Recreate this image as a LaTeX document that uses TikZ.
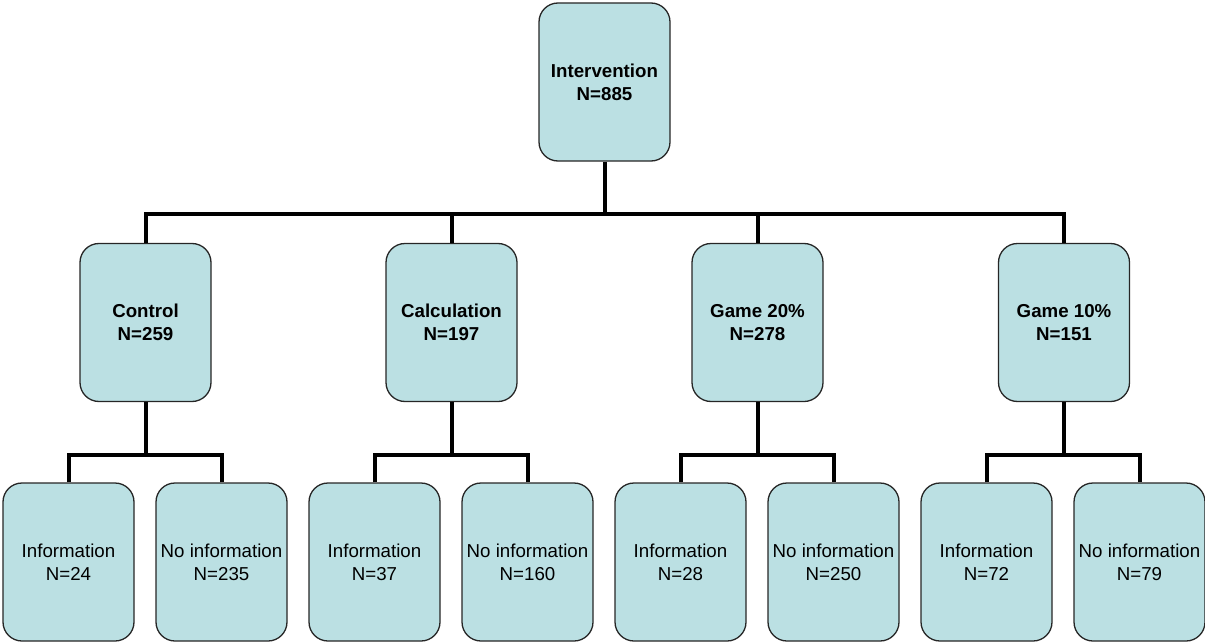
\documentclass[tikz,border=0pt]{standalone}
\usepackage{fontspec}
\setmainfont{Liberation Sans}
\begin{document}
\begin{tikzpicture}[x=1pt,y=-1pt,
  box/.style={draw=black!85, line width=1.3pt, fill=boxfill, rounded corners=19pt,
    minimum width=131pt, minimum height=158pt, inner sep=0pt, align=center,
    font=\fontsize{18.7}{23}\selectfont},
  hbox/.style={box, font=\fontsize{18.7}{23}\selectfont\bfseries},
  conn/.style={line width=4pt}]
\definecolor{boxfill}{RGB}{187,224,227}
\useasboundingbox (0,0) rectangle (1205,642);
% nodes
\node[hbox] (top) at (604.5,82) {Intervention\\N=885};
\node[hbox] (c1) at (145.5,322.5) {Control\\N=259};
\node[hbox] (c2) at (451.5,322.5) {Calculation\\N=197};
\node[hbox] (c3) at (757.5,322.5) {Game 20\%\\N=278};
\node[hbox] (c4) at (1064,322.5) {Game 10\%\\N=151};
\node[box] (l1) at (68.5,562) {Information\\N=24};
\node[box] (r1) at (221.5,562) {No information\\N=235};
\node[box] (l2) at (374.5,562) {Information\\N=37};
\node[box] (r2) at (527.5,562) {No information\\N=160};
\node[box] (l3) at (680.5,562) {Information\\N=28};
\node[box] (r3) at (833.5,562) {No information\\N=250};
\node[box] (l4) at (986.5,562) {Information\\N=72};
\node[box] (r4) at (1139.5,562) {No information\\N=79};
% bar coordinates
\coordinate (b0) at (604.5,214);
\coordinate (b1) at (145.5,455);
\coordinate (b2) at (451.5,455);
\coordinate (b3) at (757.5,455);
\coordinate (b4) at (1064,455);
% connectors
\draw[conn] (top.south) -- (b0);
\foreach \c in {c1,c2,c3,c4} {\draw[conn] (\c.north) |- (b0);}
\foreach \i in {1,2,3,4} {
  \draw[conn] (c\i.south) -- (b\i);
  \draw[conn] (l\i.north) |- (b\i);
  \draw[conn] (r\i.north) |- (b\i);
}
\end{tikzpicture}
\end{document}
